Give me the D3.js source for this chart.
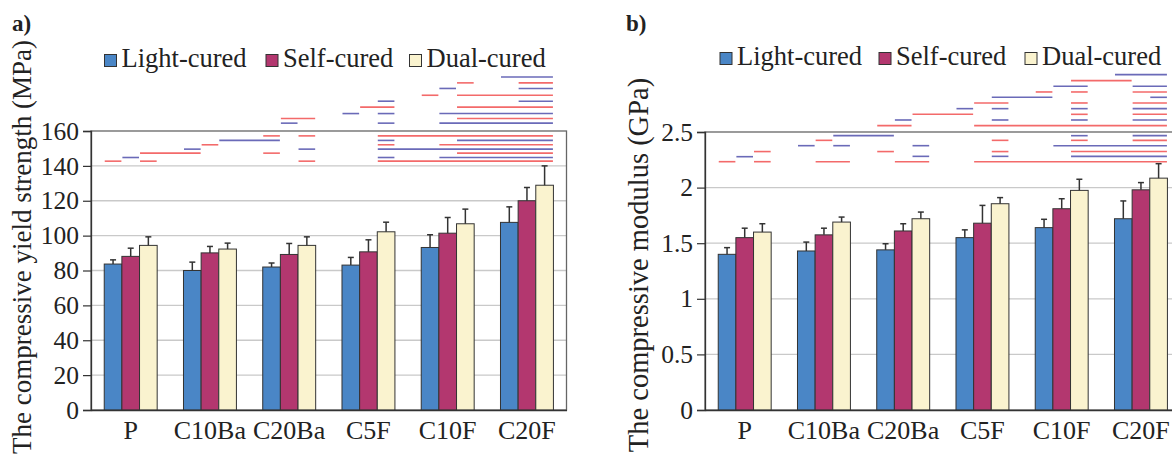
<!DOCTYPE html>
<html>
<head>
<meta charset="utf-8">
<script src="https://cdn.jsdelivr.net/npm/d3@7"></script>
<style>
  html, body { margin: 0; padding: 0; background: #fff; }
  svg { display: block; }
  text { font-family: "Liberation Serif", "DejaVu Serif", serif; fill: #222; }
</style>
</head>
<body>
<svg id="chart" width="1172" height="459"></svg>
<script>
// ---------- DATA ----------
const categories = ["P", "C10Ba", "C20Ba", "C5F", "C10F", "C20F"];
const series = ["Light-cured", "Self-cured", "Dual-cured"];

// Panel a: compressive yield strength (MPa)
const strengthLight    = [83.7, 80.0, 82.0, 83.1, 93.2, 107.6];
const strengthLightSD  = [2.4, 4.8, 2.3, 4.4, 7.3, 8.9];
const strengthSelf     = [88.1, 90.1, 89.2, 90.7, 101.4, 120.0];
const strengthSelfSD   = [4.7, 3.7, 6.3, 6.9, 9.0, 7.6];
const strengthDual     = [94.4, 92.3, 94.4, 102.2, 106.8, 128.9];
const strengthDualSD   = [4.9, 3.4, 4.9, 5.5, 8.4, 11.1];
const strengthTicks    = [0, 20, 40, 60, 80, 100, 120, 140, 160];

// Panel b: compressive modulus (GPa)
const modulusLight     = [1.40, 1.43, 1.44, 1.55, 1.64, 1.72];
const modulusLightSD   = [0.06, 0.08, 0.055, 0.07, 0.075, 0.16];
const modulusSelf      = [1.55, 1.575, 1.61, 1.68, 1.81, 1.98];
const modulusSelfSD    = [0.085, 0.06, 0.065, 0.16, 0.09, 0.065];
const modulusDual      = [1.60, 1.69, 1.72, 1.855, 1.975, 2.085];
const modulusDualSD    = [0.075, 0.045, 0.06, 0.055, 0.10, 0.13];
const modulusTicks     = [0, 0.5, 1, 1.5, 2, 2.5];
const modulusTickLabels = ["0", "0.5", "1", "1.5", "2", "2.5"];

// Significance segments: [first bar index, last bar index, level, colour key]
// bar index = group * 3 + series index
const strengthSig = [
  [0,0,142.7,"r"],[2,2,142.7,"r"],[8,8,142.7,"r"],[11,17,142.7,"r"],
  [1,1,144.8,"b"],[11,11,144.8,"b"],[13,17,144.8,"b"],
  [2,3,147.3,"r"],[6,6,147.3,"r"],[14,17,147.3,"r"],
  [3,3,149.6,"b"],[8,8,149.6,"b"],[11,17,149.6,"b"],
  [4,4,152.1,"r"],[11,11,152.1,"r"],[13,17,152.1,"r"],
  [5,6,154.6,"b"],[11,11,154.6,"b"],[14,17,154.6,"b"],
  [6,6,157.2,"r"],[8,8,157.2,"r"],[11,17,157.2,"r"],
  [7,7,164.5,"b"],[11,11,164.5,"b"],[13,17,164.5,"b"],
  [7,8,167.2,"r"],[14,17,167.2,"r"],
  [9,9,170.0,"b"],[11,11,170.0,"b"],[13,17,170.0,"b"],
  [10,11,173.7,"r"],[14,17,173.7,"r"],
  [11,11,177.1,"b"],[16,17,177.1,"b"],
  [12,12,180.5,"r"],[14,17,180.5,"r"],
  [13,13,184.4,"b"],[16,17,184.4,"b"],
  [14,14,187.6,"r"],[16,17,187.6,"r"],
  [15,17,191.0,"b"]
];
const modulusSig = [
  [0,0,2.233,"r"],[2,2,2.233,"r"],[4,5,2.233,"r"],[7,8,2.233,"r"],[10,17,2.233,"r"],
  [1,1,2.278,"b"],[8,8,2.281,"b"],[11,11,2.281,"b"],[14,17,2.281,"b"],
  [2,2,2.324,"r"],[6,6,2.324,"r"],[11,11,2.324,"r"],[14,17,2.324,"r"],
  [3,3,2.377,"b"],[5,5,2.377,"b"],[8,8,2.377,"b"],[13,17,2.377,"b"],
  [4,4,2.425,"r"],[11,11,2.425,"r"],[14,14,2.425,"r"],[16,17,2.425,"r"],
  [5,6,2.467,"b"],[14,14,2.467,"b"],[16,17,2.467,"b"],
  [6,7,2.557,"r"],[10,17,2.557,"r"],
  [7,7,2.608,"b"],[11,11,2.608,"b"],[14,14,2.608,"b"],[16,17,2.608,"b"],
  [8,9,2.659,"r"],[14,14,2.659,"r"],[16,17,2.659,"r"],
  [9,9,2.710,"b"],[11,11,2.710,"b"],[14,14,2.710,"b"],[16,17,2.710,"b"],
  [10,11,2.761,"r"],[14,14,2.761,"r"],[16,17,2.761,"r"],
  [11,12,2.812,"b"],[17,17,2.812,"b"],
  [12,12,2.860,"r"],[14,14,2.860,"r"],[16,17,2.860,"r"],
  [13,14,2.911,"b"],[16,17,2.911,"b"],
  [14,15,2.962,"r"],
  [15,17,3.016,"b"]
];

// ---------- STYLE ----------
const barColors = ["#4a86c6", "#b3376f", "#faf3cf"];
const sigColors = { r: "#f36a6a", b: "#6a6ab8" };

const svg = d3.select("#chart");

function drawPanel(cfg) {
  const g = svg.append("g");
  const x = d3.scaleBand().domain(categories).range([cfg.x0, cfg.x1]).padding(0);
  const inner = d3.scaleBand().domain(series)
    .range([x.bandwidth() * 0.167, x.bandwidth() * 0.835]).padding(0);
  const y = d3.scaleLinear().domain([0, cfg.max]).range([cfg.yBottom, cfg.yTop]);

  const barLeft = i => x(categories[Math.floor(i / 3)]) + inner(series[i % 3]);

  // gridlines
  g.append("g").selectAll("line").data(cfg.ticks.filter(t => t > 0 && t < cfg.max)).join("line")
    .attr("x1", cfg.x0).attr("x2", cfg.x1)
    .attr("y1", d => y(d)).attr("y2", d => y(d))
    .attr("stroke", "#c9c9c9").attr("stroke-width", 1.3);

  // frame (top & right)
  g.append("rect")
    .attr("x", cfg.x0).attr("y", y(cfg.max))
    .attr("width", cfg.x1 - cfg.x0).attr("height", y(0) - y(cfg.max))
    .attr("fill", "none").attr("stroke", "#666").attr("stroke-width", 1.3);

  // bars
  const rows = [];
  categories.forEach((c, gi) => {
    cfg.values.forEach((vals, si) => {
      rows.push({ c, s: series[si], si, v: vals[gi], sd: cfg.sds[si][gi] });
    });
  });
  const bw = inner.bandwidth();
  g.append("g").selectAll("rect").data(rows).join("rect")
    .attr("x", d => x(d.c) + inner(d.s))
    .attr("y", d => y(d.v))
    .attr("width", bw)
    .attr("height", d => y(0) - y(d.v))
    .attr("fill", d => barColors[d.si])
    .attr("stroke", "#333").attr("stroke-width", 1);

  // error bars (upper)
  const eg = g.append("g").attr("stroke", "#333").attr("stroke-width", 1.5);
  eg.selectAll("line.v").data(rows).join("line").attr("class", "v")
    .attr("x1", d => x(d.c) + inner(d.s) + bw / 2).attr("x2", d => x(d.c) + inner(d.s) + bw / 2)
    .attr("y1", d => y(d.v)).attr("y2", d => y(d.v + d.sd));
  eg.selectAll("line.c").data(rows).join("line").attr("class", "c")
    .attr("x1", d => x(d.c) + inner(d.s) + bw / 2 - 3).attr("x2", d => x(d.c) + inner(d.s) + bw / 2 + 3)
    .attr("y1", d => y(d.v + d.sd)).attr("y2", d => y(d.v + d.sd));

  // significance segments
  g.append("g").selectAll("line").data(cfg.sig).join("line")
    .attr("x1", d => barLeft(d[0]) + 0.5)
    .attr("x2", d => barLeft(d[1]) + bw - 0.5)
    .attr("y1", d => y(d[2])).attr("y2", d => y(d[2]))
    .attr("stroke", d => sigColors[d[3]]).attr("stroke-width", 1.6);

  // y axis
  const yAxis = d3.axisLeft(y).tickValues(cfg.ticks).tickSize(8).tickPadding(4)
    .tickFormat((d, i) => cfg.tickLabels[i]);
  const ya = g.append("g").attr("transform", `translate(${cfg.x0},0)`).call(yAxis);
  ya.select(".domain").attr("stroke", "#333").attr("stroke-width", 1.3);
  ya.selectAll(".tick line").attr("stroke", "#333").attr("stroke-width", 1.2);
  ya.selectAll(".tick text").attr("font-size", 25.5)
    .attr("font-family", "Liberation Serif").attr("fill", "#222");

  // x axis
  const xAxis = d3.axisBottom(x).tickSize(0).tickPadding(11);
  const xa = g.append("g").attr("transform", `translate(0,${cfg.yBottom})`).call(xAxis);
  xa.select(".domain").attr("stroke", "#333").attr("stroke-width", 1.3);
  xa.selectAll(".tick text").attr("font-size", 26)
    .attr("font-family", "Liberation Serif").attr("fill", "#222");

  // y title
  g.append("text")
    .attr("transform", `translate(${cfg.titleX},${cfg.titleY}) rotate(-90)`)
    .attr("text-anchor", "middle").attr("font-size", cfg.titleSize)
    .text(cfg.title);

  // panel letter
  g.append("text").attr("x", cfg.letterX).attr("y", 31)
    .attr("font-size", 23).attr("font-weight", "bold").text(cfg.letter);

  // legend
  const lg = g.append("g");
  series.forEach((s, i) => {
    lg.append("rect").attr("x", cfg.legendX[i]).attr("y", cfg.legendY - 12.5)
      .attr("width", 12).attr("height", 12)
      .attr("fill", barColors[i]).attr("stroke", "#333").attr("stroke-width", 1);
    lg.append("text").attr("x", cfg.legendX[i] + 17).attr("y", cfg.legendY)
      .attr("font-size", 26.5).text(s);
  });
}

drawPanel({
  x0: 91, x1: 566.5, yBottom: 410, yTop: 131, max: 160,
  ticks: strengthTicks, tickLabels: strengthTicks.map(String),
  values: [strengthLight, strengthSelf, strengthDual],
  sds: [strengthLightSD, strengthSelfSD, strengthDualSD],
  sig: strengthSig,
  title: "The compressive yield strength (MPa)", titleX: 31, titleY: 247, titleSize: 27,
  letter: "a)", letterX: 12,
  legendX: [104.5, 266, 409.5], legendY: 67
});

drawPanel({
  x0: 705, x1: 1180.5, yBottom: 410, yTop: 132, max: 2.5,
  ticks: modulusTicks, tickLabels: modulusTickLabels,
  values: [modulusLight, modulusSelf, modulusDual],
  sds: [modulusLightSD, modulusSelfSD, modulusDualSD],
  sig: modulusSig,
  title: "The compressive modulus (GPa)", titleX: 648, titleY: 265, titleSize: 28.5,
  letter: "b)", letterX: 626,
  legendX: [720, 879, 1025], legendY: 65
});
</script>
</body>
</html>
